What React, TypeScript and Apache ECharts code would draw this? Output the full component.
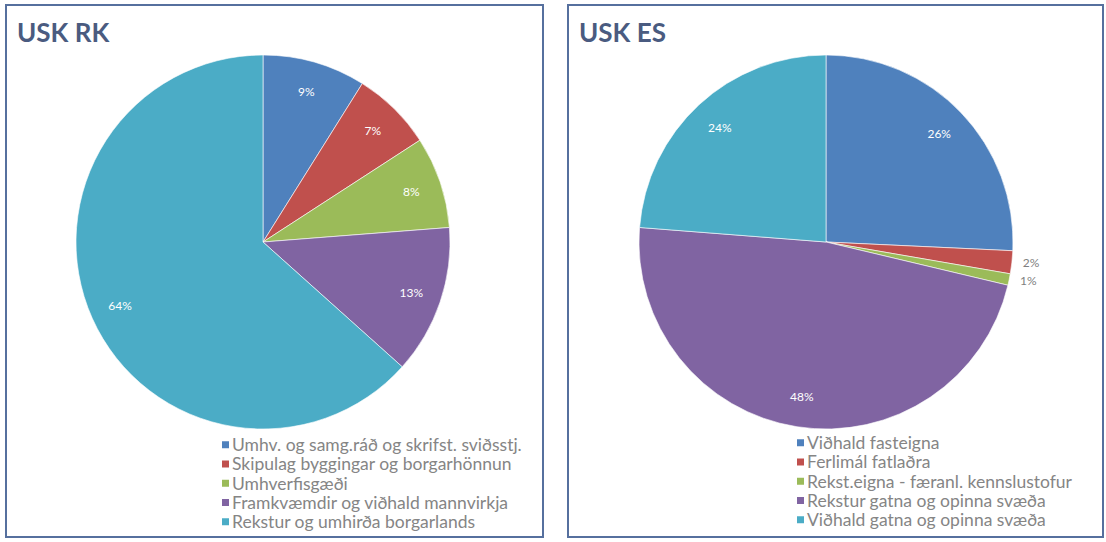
import React, { useEffect, useRef } from "react";
import * as echarts from "echarts";

const rkCategories = [
  "Umhv. og samg.ráð og skrifst. sviðsstj.",
  "Skipulag byggingar og borgarhönnun",
  "Umhverfisgæði",
  "Framkvæmdir og viðhald mannvirkja",
  "Rekstur og umhirða borgarlands",
];
const rkValues = [9, 7, 8, 13, 64];

const esCategories = [
  "Viðhald fasteigna",
  "Ferlimál fatlaðra",
  "Rekst.eigna - færanl. kennslustofur",
  "Rekstur gatna og opinna svæða",
  "Viðhald gatna og opinna svæða",
];
const esValues = [26, 2, 1, 48, 24];
const esOutsideLabels = [false, true, true, false, false];

const colors = ["#4F81BD", "#C0504D", "#9BBB59", "#8064A2", "#4BACC6"];
const FONT = "Lato, 'Open Sans', sans-serif";
const R = 187;

function makePies(cats: string[], vals: number[], center: [number, number], outside: boolean[]) {
  const main = {
    type: "pie",
    center,
    radius: [0, R],
    startAngle: 90,
    clockwise: true,
    avoidLabelOverlap: false,
    label: { show: false },
    labelLine: { show: false },
    itemStyle: { borderColor: "#ffffff", borderWidth: 0.6 },
    silent: true,
    data: cats.map((n, i) => ({ name: n, value: vals[i], itemStyle: { color: colors[i] } })),
  };
  const overlay = {
    type: "pie",
    center,
    radius: [120, R],
    startAngle: 90,
    clockwise: true,
    avoidLabelOverlap: false,
    silent: true,
    itemStyle: { color: "rgba(0,0,0,0)" },
    label: {
      show: true,
      position: "inside",
      formatter: "{c}%",
      color: "#ffffff",
      fontSize: 12,
      fontFamily: FONT,
    },
    labelLine: { show: false, length: 6, length2: 0 },
    data: cats.map((n, i) => ({
      name: n,
      value: vals[i],
      itemStyle: { color: "rgba(0,0,0,0)" },
      label: outside[i]
        ? { position: "outside", color: "#7f7f7f", fontSize: 12 }
        : undefined,
    })),
  };
  return [main, overlay];
}

export default function App() {
  const ref = useRef<HTMLDivElement>(null);
  useEffect(() => {
    if (!ref.current) return;
    const chart = echarts.init(ref.current, null, { renderer: "svg" });
    const legendCommon = {
      orient: "vertical",
      itemWidth: 9,
      itemHeight: 9,
      itemGap: 0,
      icon: "rect",
      selectedMode: false,
      textStyle: { color: "#858585", fontSize: 17.5, fontFamily: FONT, lineHeight: 19.3, padding: [0, 0, 0, -3] },
      padding: 0,
    };
    chart.setOption({
      animation: false,
      backgroundColor: "#ffffff",
      title: [
        {
          text: "USK RK",
          left: 12,
          top: 14,
          textStyle: { color: "#4A5B80", fontSize: 26, fontWeight: "bold", fontFamily: FONT },
        },
        {
          text: "USK ES",
          left: 574,
          top: 14,
          textStyle: { color: "#4A5B80", fontSize: 26, fontWeight: "bold", fontFamily: FONT },
        },
      ],
      legend: [
        { ...legendCommon, left: 220, top: 435, data: rkCategories },
        { ...legendCommon, left: 795, top: 433, data: esCategories },
      ],
      graphic: [
        {
          type: "rect",
          shape: { x: 6, y: 5, width: 537, height: 532 },
          style: { fill: "none", stroke: "#56709E", lineWidth: 2 },
          silent: true,
          z: 100,
        },
        {
          type: "rect",
          shape: { x: 568, y: 5, width: 535, height: 532 },
          style: { fill: "none", stroke: "#56709E", lineWidth: 2 },
          silent: true,
          z: 100,
        },
      ],
      series: [
        ...makePies(rkCategories, rkValues, [263, 242], [false, false, false, false, false]),
        ...makePies(esCategories, esValues, [826, 242], esOutsideLabels),
      ],
    });
    return () => chart.dispose();
  }, []);
  return (
    <div
      ref={ref}
      style={{ position: "absolute", left: 0, top: 0, width: 1106, height: 542 }}
    />
  );
}
